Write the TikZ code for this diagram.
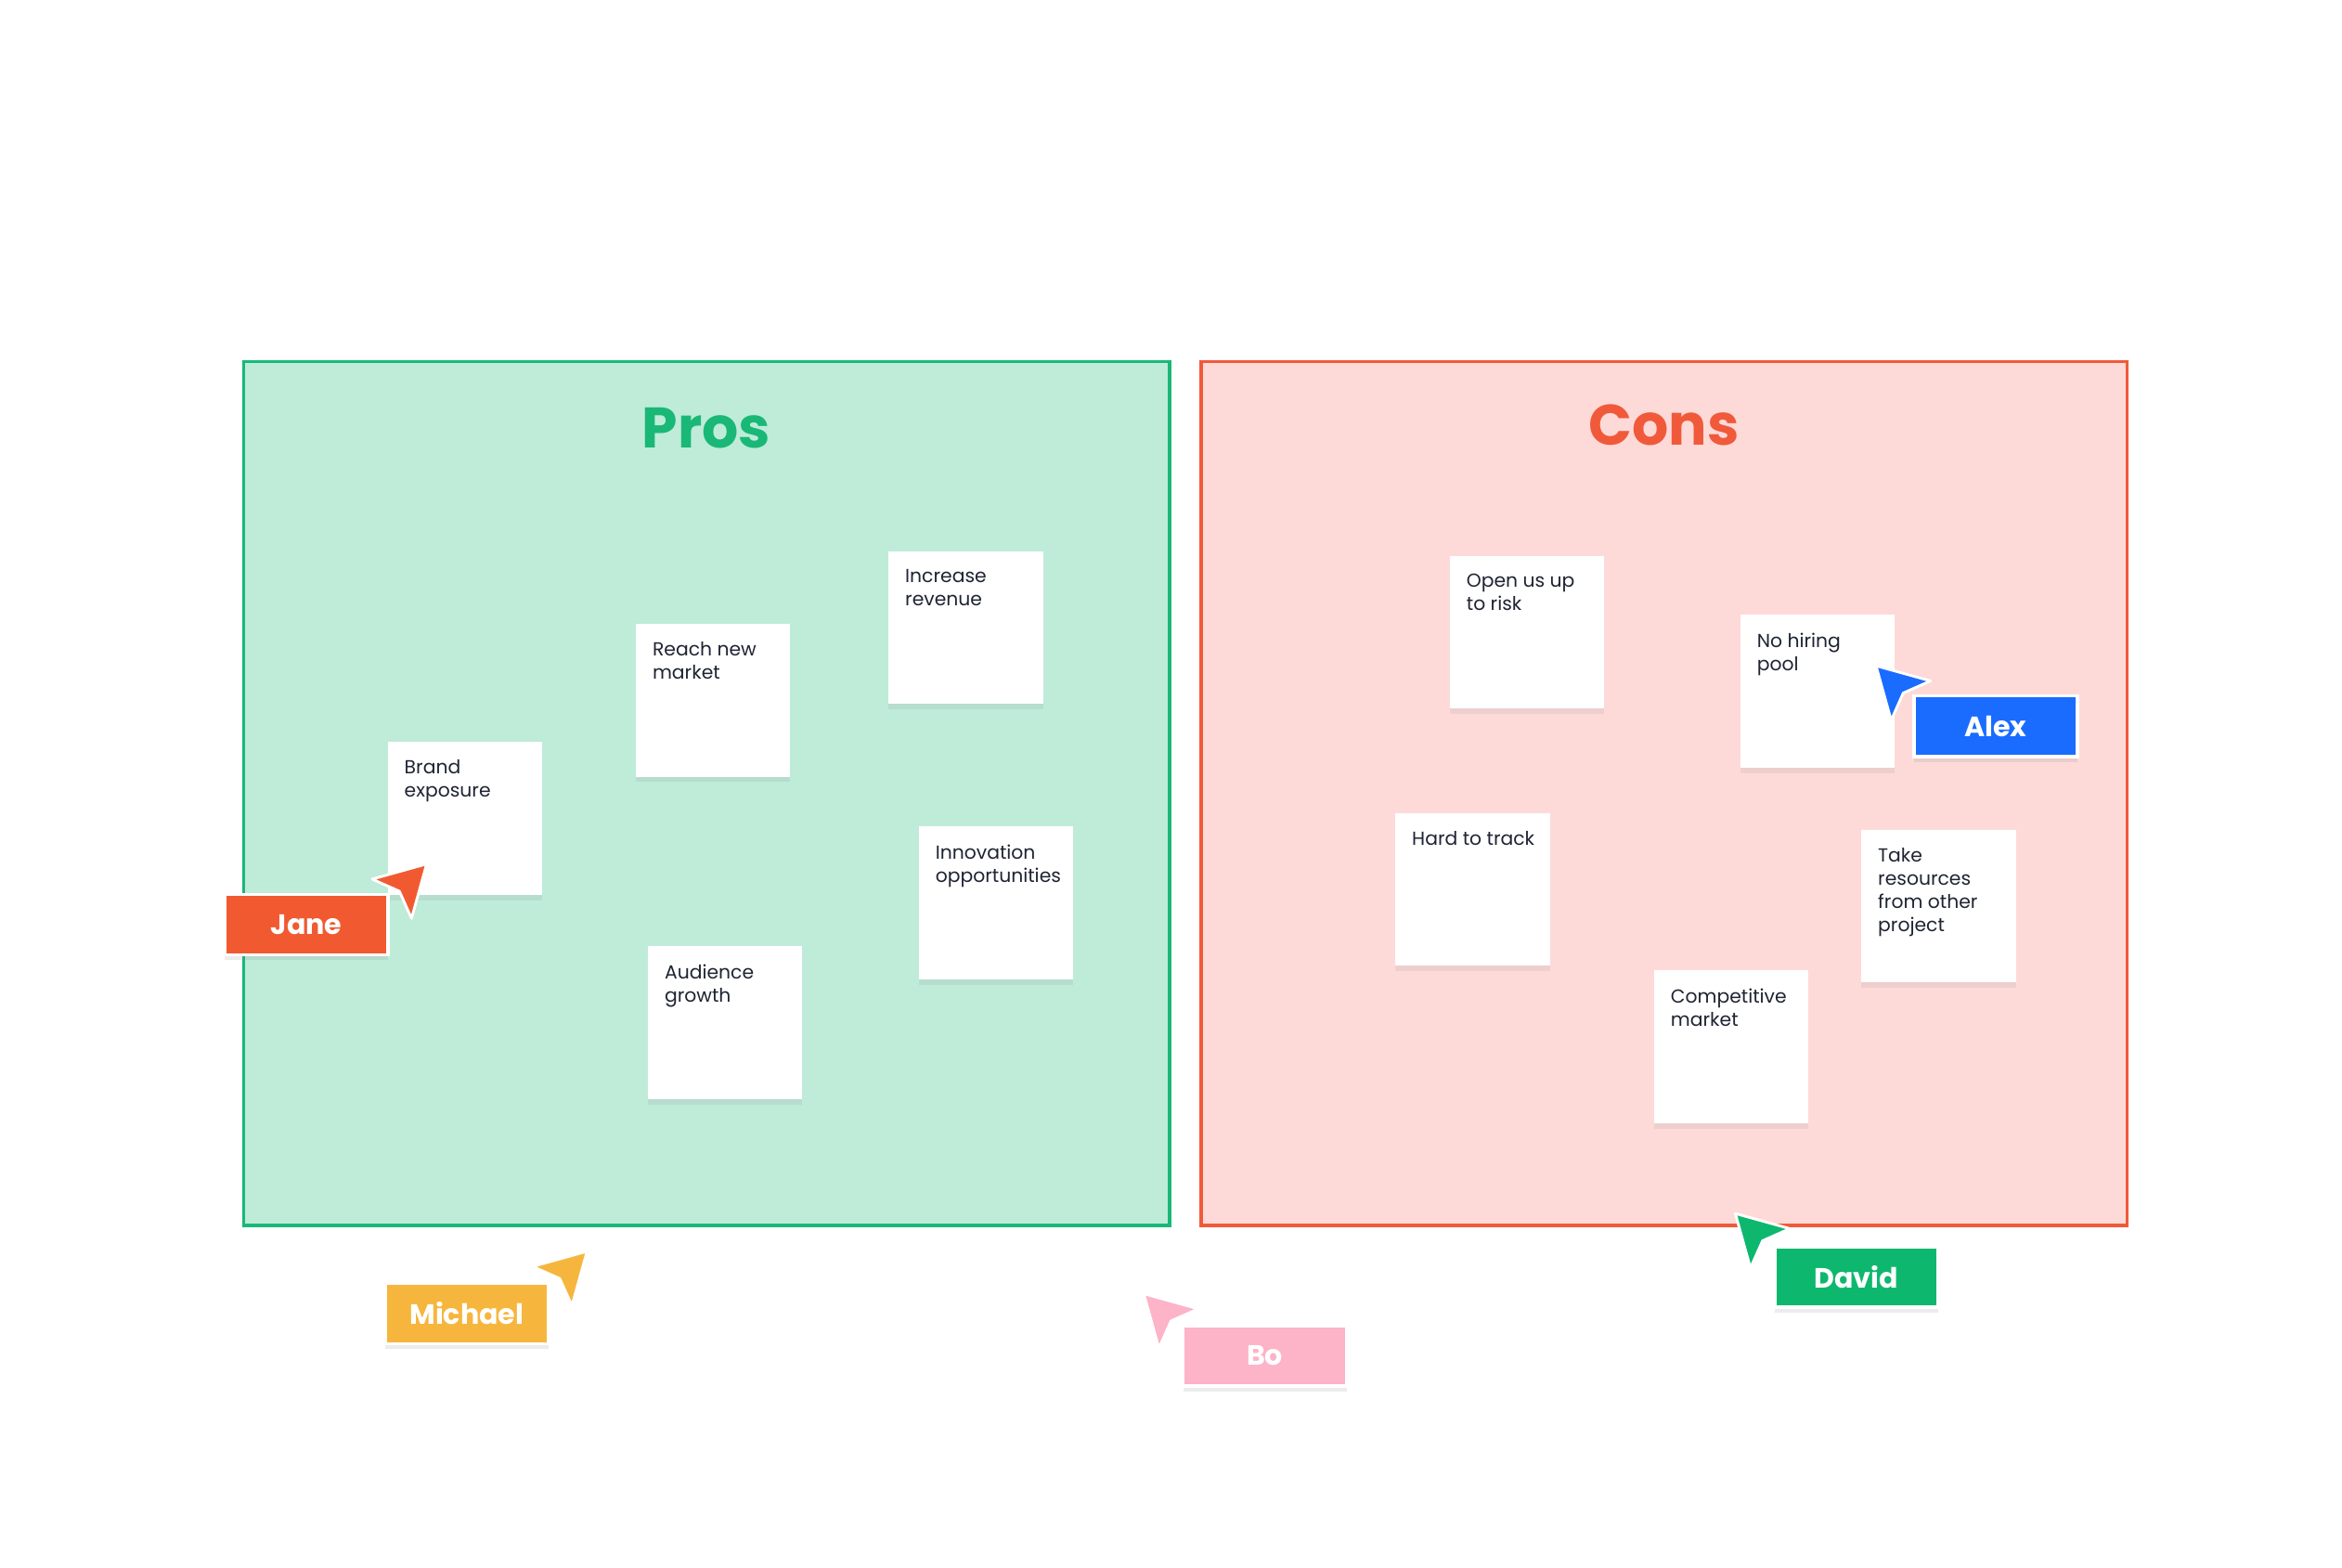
\documentclass[tikz,border=0pt]{standalone}
\usepackage{fontspec}
\setmainfont{Poppins}
\usetikzlibrary{shadows}
\definecolor{prosfill}{HTML}{BFEBD9}
\definecolor{prosline}{HTML}{19B877}
\definecolor{consfill}{HTML}{FDDAD8}
\definecolor{consline}{HTML}{F05A3A}
\definecolor{cjane}{HTML}{F15A31}
\definecolor{cmich}{HTML}{F6B63E}
\definecolor{cbo}{HTML}{FDB3C8}
\definecolor{cdavid}{HTML}{0DB86E}
\definecolor{calex}{HTML}{1A6CFF}
\definecolor{ink}{HTML}{1F2433}
\tikzset{
  sticky/.style={fill=white, minimum width=2.04cm, minimum height=2.02cm, inner sep=0pt,
    drop shadow={shadow xshift=0pt, shadow yshift=-2pt, opacity=0.12}},
  stext/.style={anchor=north west, align=left, font=\fontsize{7.1}{8.7}\selectfont, text=ink, inner sep=0pt},
  tag/.style={minimum width=2.16cm, minimum height=0.8cm, inner sep=0pt, draw=white, line width=1.2pt,
    text=white, font=\fontsize{10.5}{13}\selectfont\bfseries,
    drop shadow={shadow xshift=0pt, shadow yshift=-2pt, opacity=0.15}},
  cur/.style={draw=white, line width=1pt, line join=round}
}
\begin{document}
\begin{tikzpicture}[x=0.02cm,y=-0.02cm]
\useasboundingbox[fill=white] (0,0) rectangle (1548,1036);
% boards
\draw[prosline, line width=1.2pt, fill=prosfill] (161,239) rectangle (773,810);
\draw[consline, line width=1.2pt, fill=consfill] (794,239) rectangle (1406,810);
\node (pros) at (467,283) {\fontsize{21.5}{26}\selectfont\bfseries\color{prosline}Pros};
\node (cons) at (1100,281) {\fontsize{21.5}{26}\selectfont\bfseries\color{consline}Cons};
% stickies
\newcommand\sticky[4]{%
  \node[sticky, anchor=north west] (#1) at (#2,#3) {};
  \node[stext] at ([xshift=0.22cm,yshift=-0.24cm]#1.north west) {#4};}
\sticky{s1}{587}{364}{Increase\\revenue}
\sticky{s2}{420}{412}{Reach new\\market}
\sticky{s3}{256}{490}{Brand\\exposure}
\sticky{s4}{607}{546}{Innovation\\opportunities}
\sticky{s5}{428}{625}{Audience\\growth}
\sticky{c1}{958}{367}{Open us up\\to risk}
\sticky{c2}{1150}{406}{No hiring\\pool}
\sticky{c3}{922}{537}{Hard to track}
\sticky{c4}{1230}{548}{Take\\resources\\from other\\project}
\sticky{c5}{1093}{641}{Competitive\\market}
% cursors: base shape tip at origin pointing up-left
\newcommand\cursor[4]{%
  \begin{scope}[shift={(#1,#2)}, xscale=#3]
    \filldraw[cur, fill=#4] (0,0) -- (36,10) -- (18,18) -- (10,36) -- cycle;
  \end{scope}}
\cursor{282}{571}{-1}{cjane}
\cursor{388}{827}{-1}{cmich}
\cursor{756}{855}{1}{cbo}
\cursor{1147}{802}{1}{cdavid}
\cursor{1240}{440}{1}{calex}
% tags
\node[tag, fill=cjane] (jane) at (202.5,611) {Jane};
\node[tag, fill=cmich] (michael) at (308.5,868) {Michael};
\node[tag, fill=cbo] (bo) at (836,896) {Bo};
\node[tag, fill=cdavid] (david) at (1227,844) {David};
\node[tag, fill=calex] (alex) at (1319,480) {Alex};
\end{tikzpicture}
\end{document}
